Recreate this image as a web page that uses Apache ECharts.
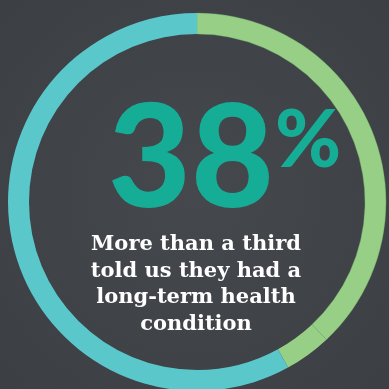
<!DOCTYPE html>
<html>
<head>
<meta charset="utf-8">
<style>
  html, body { margin: 0; padding: 0; background: #404348; }
  #chart { width: 389px; height: 389px; }
</style>
<script src="https://cdn.jsdelivr.net/npm/echarts@6/dist/echarts.min.js"></script>
</head>
<body>
<div id="chart"></div>
<script>
// Share of respondents, split into ring segments (percent)
const segmentNames = ['Long-term condition', 'Long-term condition (other)', 'No condition'];
const segmentValues = [38, 4, 58];
const segmentColors = ['#96cf85', '#96cf85', '#5ac7cb'];

const headline = '38';
const headlineUnit = '%';
const captionLines = ['More than a third', 'told us they had a', 'long-term health', 'condition'];

const chart = echarts.init(document.getElementById('chart'), null, { renderer: 'canvas' });

chart.setOption({
  backgroundColor: {
    type: 'radial', x: 0.5, y: 0.5, r: 0.75,
    colorStops: [
      { offset: 0, color: '#45484d' },
      { offset: 1, color: '#3b3e43' }
    ]
  },
  animation: false,
  series: [{
    type: 'pie',
    silent: true,
    center: [197, 202],
    radius: [168, 189],
    startAngle: 90,
    clockwise: true,
    label: { show: false },
    labelLine: { show: false },
    itemStyle: { borderWidth: 0 },
    data: segmentValues.map((v, i) => ({
      name: segmentNames[i],
      value: v,
      itemStyle: {
        color: segmentColors[i],
        borderColor: i === 0 ? 'rgba(110,170,100,0.6)' : segmentColors[i],
        borderWidth: i === 0 ? 0.6 : 0
      }
    }))
  }],
  graphic: [
    {
      type: 'text',
      x: 191,
      y: 161,
      style: {
        text: headline,
        font: '900 143px Lato',
        fill: '#16ad97',
        align: 'center',
        verticalAlign: 'middle'
      }
    },
    {
      type: 'text',
      x: 308,
      y: 141,
      style: {
        text: headlineUnit,
        font: '900 80px Lato',
        fill: '#16ad97',
        align: 'center',
        verticalAlign: 'middle'
      }
    },
    {
      type: 'text',
      x: 196,
      y: 231,
      style: {
        text: captionLines.join('\n'),
        font: 'bold 21px "DejaVu Serif"',
        lineHeight: 26.7,
        align: 'center',
        verticalAlign: 'top',
        fill: '#ffffff'
      }
    }
  ]
});
</script>
</body>
</html>
